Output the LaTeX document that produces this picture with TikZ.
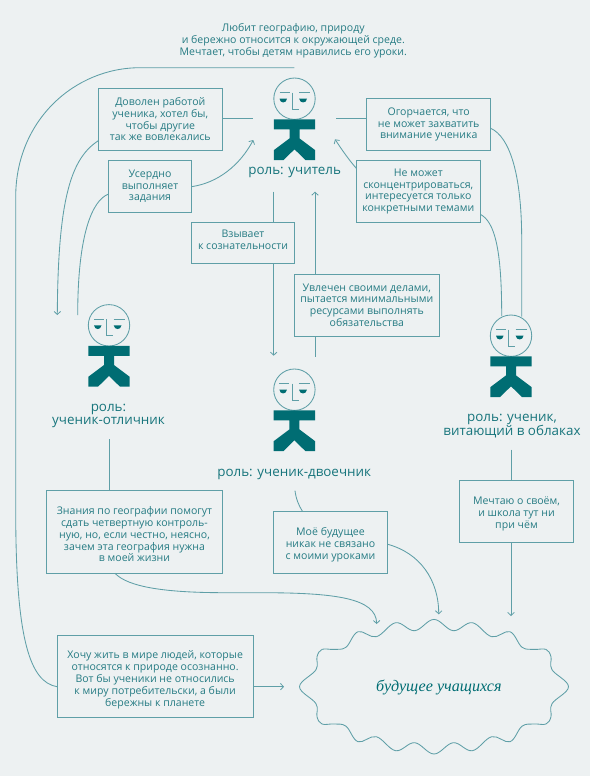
\documentclass[tikz,border=0pt]{standalone}
\usepackage{fontspec}
\setmainfont{Open Sans}
\newfontfamily\cloudfont{Liberation Serif}
\usetikzlibrary{arrows.meta}
\definecolor{bgc}{HTML}{EDF1F2}
\definecolor{linec}{HTML}{5F9FA7}
\definecolor{txtc}{HTML}{257B83}
\definecolor{rolec}{HTML}{17757C}
\definecolor{darkc}{HTML}{006D73}
\tikzset{
  tbox/.style={draw=linec,line width=.95pt,inner sep=0pt,outer sep=0pt,align=center,text=txtc,font=\fontsize{10.55}{11.8}\selectfont},
  free/.style={text=txtc,align=center,font=\fontsize{10.55}{11.8}\selectfont},
  role/.style={text=rolec,align=center,font=\fontsize{13.4}{13}\selectfont},
  conn/.style={draw=linec,line width=.85pt},
  arr/.style={conn,-{Straight Barb[length=3pt,width=6.5pt,line width=.8pt]}},
  headc/.style={circle,draw=linec,line width=.85pt,minimum size=41.4pt,inner sep=0pt,outer sep=0pt},
}
% pushes a box's lines down by #1 (placed in the first line)
\newcommand{\dn}[1]{\rule{0pt}{\dimexpr 7.8pt+#1*2\relax}}
\newcommand{\tb}[6]{%
  \pgfmathsetmacro{\bcx}{(#2+#4)/2}\pgfmathsetmacro{\bcy}{(#3+#5)/2}%
  \pgfmathsetmacro{\bwd}{#4-#2}\pgfmathsetmacro{\bht}{#5-#3}%
  \node[tbox,minimum width=\bwd pt,minimum height=\bht pt] (#1) at (\bcx,\bcy) {#6};}
\newcommand{\person}[3]{%
  \node[headc] (#1) at (#2,#3) {};
  \begin{scope}[shift={(#2,#3)}]
    \fill[darkc] (-20.7,20.6) -- (20.7,20.6) -- (20.7,30.6) -- (5,30.6) -- (5,39.7) -- (20.7,51.5) -- (20.7,61.4) -- (11,61.4) -- (0,50.6) -- (-11,61.4) -- (-20.7,61.4) -- (-20.7,51.5) -- (-5,39.7) -- (-5,30.6) -- (-20.7,30.6) -- cycle;
    \draw[conn] (-15,-6) -- (-5,-6) (4.5,-6) -- (15.5,-6);
    \draw[conn] (-2.3,-6) -- (-2.3,10.5) -- (4.3,10.5);
    \fill[darkc] (-15,0) -- (-7.5,0) .. controls (-8,5) and (-14.5,5) .. (-15,0) -- cycle;
    \fill[darkc] (4.7,0) -- (12.5,0) .. controls (12,5) and (5.2,5) .. (4.7,0) -- cycle;
  \end{scope}}
\begin{document}
\begin{tikzpicture}[x=1pt,y=-1pt]
\fill[bgc] (0,0) rectangle (590,776);
\useasboundingbox (0,0) rectangle (590,776);

% top text
\node[free] (top) at (293.3,41) {Любит географию, природу\\и бережно относится к окружающей среде.\\Мечтает, чтобы детям нравились его уроки.};

% people
\person{teacher}{294.5}{98.7}
\person{best}{109}{325.3}
\person{worst}{294.4}{389.7}
\person{dreamer}{511}{335.7}
\node[role] (rteacher) at (294.7,172.3) {роль: учитель};
\node[role] (rbest) at (108.5,415.7) {роль:\\ученик-отличник};
\node[role] (rworst) at (294.2,474) {роль: ученик-двоечник};
\node[role] (rdreamer) at (512,426.3) {роль: ученик,\\витающий в облаках};

% boxes
\tb{happy}{98.3}{88.3}{222.3}{150.3}{Доволен работой\\ученика, хотел бы,\\чтобы другие\\так же вовлекались}
\tb{diligent}{108.7}{160.7}{191.3}{212}{Усердно\\выполняет\\задания}
\tb{calls}{191.3}{222.7}{294.7}{263.7}{Взывает\\к сознательности\rule[-6.5pt]{0pt}{6.5pt}}
\tb{busy}{294.3}{274}{439.3}{336}{Увлечен своими делами,\\пытается минимальными\\ресурсами выполнять\\обязательства}
\tb{upset}{366.7}{98.7}{490.7}{150.3}{Огорчается, что\\не может захватить\\внимание ученика}
\tb{focus}{356.3}{160.3}{480.3}{222.7}{Не может\\сконцентрироваться,\\интересуется только\\конкретными темами}
\tb{know}{46.7}{490.7}{222.3}{573.3}{\dn{2.5pt}Знания по географии помогут\\сдать четвертную контроль-\\ную, но, если честно, неясно,\\зачем эта география нужна\\в моей жизни}
\tb{mine}{273.3}{511}{387.7}{573.3}{\dn{3pt}Моё будущее\\никак не связано\\с моими уроками}
\tb{dream}{459.7}{480.3}{573.3}{542.3}{\dn{2.5pt}Мечтаю о своём,\\и школа тут ни\\при чём}
\tb{wish}{57}{635}{253.3}{717.7}{\dn{3.5pt}Хочу жить в мире людей, которые\\относятся к природе осознанно.\\Вот бы ученики не относились\\к миру потребительски, а были\\бережны к планете}

% cloud
\node[text=darkc,font=\cloudfont\itshape\fontsize{16.1}{16}\selectfont] (future) at (438.8,687.5) {будущее учащихся};
\draw[conn,shift={(434,686.7)}] plot[smooth cycle,tension=.62] coordinates {
 (0,-67.3) (19.3,-56) (38.3,-64) (57.7,-50) (76,-55) (88,-39.5) (100,-37.3) (112,-37.3) (117,-30) (118,-17) (134.5,0)
 (118,17) (117,30) (112,37.3) (100,37.3) (88,39.5) (76,55) (57.7,50) (38.3,64) (19.3,56)
 (0,67.3) (-19.3,56) (-38.3,64) (-57.7,50) (-76,55) (-88,39.5) (-100,37.3) (-112,37.3) (-117,30) (-118,17) (-134.5,0)
 (-118,-17) (-117,-30) (-112,-37.3) (-100,-37.3) (-88,-39.5) (-76,-55) (-57.7,-50) (-38.3,-64) (-19.3,-56)};

% free ends
\coordinate (a1) at (294.3,67.7);
\coordinate (w1) at (57,686.7);
\coordinate (w2) at (253.3,686.7);
\coordinate (w3) at (284,686.7);
\coordinate (k1) at (115,573.3);
\coordinate (k2) at (376.7,624);
\coordinate (m1) at (387.7,544.3);
\coordinate (m2) at (438.7,614.3);
\coordinate (m3) at (295,490.7);
\coordinate (m4) at (302.3,511);
\coordinate (d1) at (511,449.5);
\coordinate (d2) at (511,480.3);
\coordinate (d3) at (511,542.3);
\coordinate (d4) at (511,616);
\coordinate (b1) at (109,439);
\coordinate (b2) at (109,490.7);
\coordinate (h1) at (222.3,118.7);
\coordinate (h2) at (253.3,118.7);
\coordinate (h3) at (98.3,140.7);
\coordinate (h4) at (57.3,315);
\coordinate (g1) at (191.3,186.7);
\coordinate (g2) at (253.3,140);
\coordinate (g3) at (108.7,194);
\coordinate (g4) at (77.7,315);
\coordinate (c1) at (273.7,191.7);
\coordinate (c2) at (273.7,222.7);
\coordinate (c3) at (273.7,263.7);
\coordinate (c4) at (273.7,355.7);
\coordinate (u1) at (315,274);
\coordinate (u2) at (315,191.7);
\coordinate (u3) at (315,356.7);
\coordinate (u4) at (315,336);
\coordinate (o1) at (336,118.7);
\coordinate (o2) at (366.7,118.7);
\coordinate (o3) at (490.7,128.3);
\coordinate (o4) at (521.7,316.7);
\coordinate (f1) at (356.3,168.3);
\coordinate (f2) at (335,139.3);
\coordinate (f3) at (480.3,214.3);
\coordinate (f4) at (501.7,316);

% connectors
\draw[conn] (w1) .. controls (30,682) and (15.7,640) .. (15.7,510) -- (15.7,197) .. controls (15.7,120) and (75,67.7) .. (140,67.7) -- (a1);
\draw[arr] (w2) -- (w3);
\draw[arr] (k1) .. controls (128,587) and (165,592.7) .. (225,592.7) -- (260,592.7) .. controls (335,592.7) and (376,598) .. (k2);
\draw[arr] (m1) .. controls (420,553) and (438.7,580) .. (m2);
\draw[conn] (m3) .. controls (296,499) and (299,506) .. (m4);
\draw[conn] (d1) -- (d2);
\draw[arr] (d3) -- (d4);
\draw[conn] (b1) -- (b2);
\draw[conn] (h1) -- (h2);
\draw[arr] (h3) .. controls (72,158) and (58,195) .. (h4);
\draw[arr] (g1) .. controls (218,183) and (240,165) .. (g2);
\draw[conn] (g3) .. controls (92,200) and (77.7,235) .. (g4);
\draw[conn] (c1) -- (c2);
\draw[arr] (c3) -- (c4);
\draw[arr] (u1) -- (u2);
\draw[conn] (u3) -- (u4);
\draw[conn] (o1) -- (o2);
\draw[conn] (o3) .. controls (510,137) and (521.7,175) .. (521.7,240) -- (o4);
\draw[arr] (f1) .. controls (349,160) and (342,150) .. (f2);
\draw[conn] (f3) .. controls (495,222) and (501.7,250) .. (f4);
\end{tikzpicture}
\end{document}
